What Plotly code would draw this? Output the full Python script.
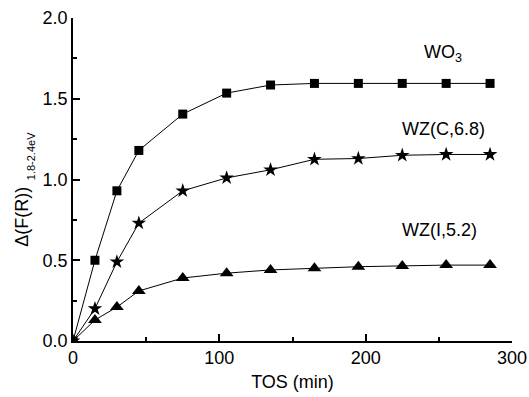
import plotly.graph_objects as go

tos = [0, 15, 30, 45, 75, 105, 135, 165, 195, 225, 255, 285]
wo3 = [0, 0.50, 0.93, 1.18, 1.405, 1.535, 1.585, 1.595, 1.595, 1.595, 1.595, 1.595]
wz_c = [0, 0.20, 0.49, 0.73, 0.93, 1.01, 1.06, 1.125, 1.13, 1.15, 1.155, 1.155]
wz_i = [0, 0.13, 0.21, 0.31, 0.39, 0.42, 0.44, 0.45, 0.46, 0.465, 0.47, 0.47]

series = [
    ("WO3", wo3, "square", 9),
    ("WZ(C,6.8)", wz_c, "star", 11),
    ("WZ(I,5.2)", wz_i, "triangle-up", 12),
]

fig = go.Figure()
for name, ys, sym, size in series:
    fig.add_trace(go.Scatter(
        x=tos, y=ys, mode="lines+markers", name=name,
        line=dict(color="black", width=1),
        marker=dict(symbol=sym, size=size, color="black", line=dict(width=0)),
        cliponaxis=True,
    ))

font = "Liberation Sans, Arial, sans-serif"
lab_font = dict(family=font, size=18, color="black")
fig.add_annotation(x=238.5, y=1.78, text="WO<sub>3</sub>", showarrow=False,
                   font=lab_font, xanchor="left", yanchor="middle")
fig.add_annotation(x=223.5, y=1.31, text="WZ(C,6.8)", showarrow=False,
                   font=lab_font, xanchor="left", yanchor="middle")
fig.add_annotation(x=223.5, y=0.69, text="WZ(I,5.2)", showarrow=False,
                   font=lab_font, xanchor="left", yanchor="middle")

# y-axis title: main part and subscript
fig.add_annotation(xref="paper", yref="paper", x=-0.116, y=0.385, text="Δ(F(R))",
                   textangle=-90, showarrow=False, font=dict(family=font, size=18, color="black"),
                   xanchor="center", yanchor="middle")
fig.add_annotation(xref="paper", yref="paper", x=-0.095, y=0.573, text="1.8-2.4eV",
                   textangle=-90, showarrow=False, font=dict(family=font, size=11, color="black"),
                   xanchor="center", yanchor="middle")

fig.update_layout(
    width=529, height=397,
    margin=dict(l=73, r=17, t=18, b=56),
    paper_bgcolor="white", plot_bgcolor="white",
    showlegend=False,
    font=dict(family=font, size=18, color="black"),
)
fig.update_xaxes(
    range=[0, 300], tickvals=[0, 100, 200, 300], ticktext=["0", "100", "200", "300"],
    ticks="inside", ticklen=7, tickwidth=1.5, tickcolor="black",
    minor=dict(tickvals=[50, 150, 250], ticks="inside", ticklen=4, tickwidth=1.5, tickcolor="black"),
    showline=True, linecolor="black", linewidth=1.5, showgrid=False, zeroline=False,
    title=dict(text="TOS (min)", font=dict(size=18), standoff=8),
    tickfont=dict(size=18), automargin=False,
)
fig.update_yaxes(
    range=[0, 2.0], tickvals=[0, 0.5, 1.0, 1.5, 2.0], ticktext=["0.0", "0.5", "1.0", "1.5", "2.0"],
    ticks="inside", ticklen=7, tickwidth=1.5, tickcolor="black",
    minor=dict(tickvals=[0.25, 0.75, 1.25, 1.75], ticks="inside", ticklen=4, tickwidth=1.5, tickcolor="black"),
    showline=True, linecolor="black", linewidth=1.5, showgrid=False, zeroline=False,
    tickfont=dict(size=18), automargin=False,
)

fig.write_html("out.html", config={"displayModeBar": False},
               post_script="document.body.style.margin='0';document.body.style.overflow='hidden';")
